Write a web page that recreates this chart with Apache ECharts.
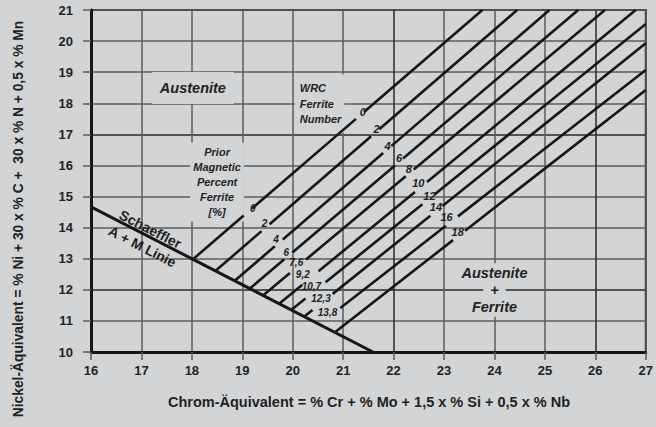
<!DOCTYPE html>
<html><head><meta charset="utf-8">
<script src="https://cdn.jsdelivr.net/npm/echarts@6/dist/echarts.min.js"></script>
<style>html,body{margin:0;padding:0;background:#d3d4d6;}#c{width:656px;height:427px;}</style>
</head><body><div id="c"></div>
<script>
// ---- data ----
const xRange = [16, 27];
const yRange = [10, 21];
const schaefflerX = [16, 21.59];
const schaefflerY = [14.67, 10];
const ferriteNumbers = ['0', '2', '4', '6', '8', '10', '12', '14', '16', '18'];
const magneticPercent = ['0', '2', '4', '6', '7,6', '9,2', '10,7', '12,3', '13,8', null];
const lineStartX = [18.02, 18.47, 18.85, 19.15, 19.41, 19.73, 19.97, 20.23, 20.53, 20.83];
const lineStartY = [12.98, 12.61, 12.29, 12.04, 11.82, 11.55, 11.35, 11.14, 10.89, 10.63];
const lineEndX = [23.76, 24.45, 25.09, 25.66, 26.19, 26.80, 27, 27, 27, 27];
const lineEndY = [21, 21, 21, 21, 21, 21, 20.55, 19.93, 19.07, 18.43];
// label anchor positions (data units)
const fnLabelX = [21.39, 21.66, 21.88, 22.11, 22.30, 22.49, 22.71, 22.84, 23.05, 23.27];
const fnLabelY = [17.73, 17.17, 16.63, 16.23, 15.88, 15.43, 15.03, 14.66, 14.33, 13.87];
const pmLabelX = [19.21, 19.44, 19.67, 19.87, 20.07, 20.20, 20.37, 20.56, 20.69, null];
const pmLabelY = [14.62, 14.12, 13.63, 13.21, 12.88, 12.50, 12.10, 11.73, 11.28, null];

const xTitle = 'Chrom-Äquivalent = % Cr + % Mo + 1,5 x % Si + 0,5 x % Nb';
const yTitle = 'Nickel-Äquivalent = % Ni + 30 x % C +  30 x % N + 0,5 x % Mn';

// ---- build ----
const BG = '#d3d4d6';
const FONT = '"Liberation Sans", Arial, Helvetica, sans-serif';
function lineY(i, x) {
  return lineStartY[i] + (x - lineStartX[i]) * (lineEndY[i] - lineStartY[i]) / (lineEndX[i] - lineStartX[i]);
}
function lineXAt(i, y) {
  return lineStartX[i] + (y - lineStartY[i]) * (lineEndX[i] - lineStartX[i]) / (lineEndY[i] - lineStartY[i]);
}
function gapHalf(t) { return 0.04 + 0.04 * t.length; }

const segments = [];
const fnPoints = [];
const pmPoints = [];
for (let i = 0; i < ferriteNumbers.length; i++) {
  const gaps = [];
  if (magneticPercent[i] !== null) {
    gaps.push({ x: lineXAt(i, pmLabelY[i] - 0.12), h: gapHalf(magneticPercent[i]) });
    pmPoints.push([pmLabelX[i], pmLabelY[i], magneticPercent[i]]);
  }
  gaps.push({ x: lineXAt(i, fnLabelY[i] - 0.12), h: gapHalf(ferriteNumbers[i]) });
  fnPoints.push([fnLabelX[i], fnLabelY[i], ferriteNumbers[i]]);
  let cur = lineStartX[i];
  gaps.forEach(g => {
    const a = g.x - g.h;
    if (a > cur + 0.02) segments.push({ coords: [[cur, lineY(i, cur)], [a, lineY(i, a)]] });
    cur = g.x + g.h;
  });
  segments.push({ coords: [[cur, lineY(i, cur)], [lineEndX[i], lineEndY[i]]] });
}

const regionText = {
  color: '#222', fontFamily: FONT, fontWeight: 'bold', fontStyle: 'italic', backgroundColor: BG
};
const annotations = [
  { value: [18.02, 18.49], label: Object.assign({ formatter: 'Austenite', fontSize: 14.5, padding: [7, 8, 10, 8] }, regionText) },
  { value: [20.04, 17.99], label: Object.assign({ formatter: 'WRC\nFerrite\nNumber', fontSize: 11, lineHeight: 15.5, align: 'left', padding: [6, 3, 6, 5] }, regionText) },
  { value: [18.50, 15.47], label: Object.assign({ formatter: 'Prior\nMagnetic\nPercent\nFerrite\n[%]', fontSize: 11, lineHeight: 15, padding: [2, 3, 2, 3] }, regionText) },
  { value: [24.0, 12.55], label: Object.assign({ formatter: 'Austenite', fontSize: 14.5, lineHeight: 17, padding: [1, 3, 1, 3] }, regionText) },
  { value: [24.0, 12.0], label: Object.assign({ formatter: '+', fontSize: 14.5, lineHeight: 17, fontStyle: 'normal', padding: [1, 7, 1, 7] }, regionText) },
  { value: [24.0, 11.44], label: Object.assign({ formatter: 'Ferrite', fontSize: 14.5, lineHeight: 17, padding: [1, 3, 1, 3] }, regionText) },
  { value: [17.18, 13.95], label: { formatter: 'Schaeffler', rotate: -27, fontSize: 14, fontWeight: 'bold', fontFamily: FONT, color: '#1e1e1e' } },
  { value: [17.02, 13.39], label: { formatter: 'A + M Linie', rotate: -27, fontSize: 14, fontWeight: 'bold', fontFamily: FONT, color: '#1e1e1e' } }
];

const gridDarkX = ['#5c5c5c','#5c5c5c','#5c5c5c','#5c5c5c','#5c5c5c','#5c5c5c','#2a2a2a','#5c5c5c','#5c5c5c','#5c5c5c','#2a2a2a','#5c5c5c'];
const gridDarkY = ['#5c5c5c','#5c5c5c','#2a2a2a','#5c5c5c','#5c5c5c','#5c5c5c','#5c5c5c','#2a2a2a','#5c5c5c','#5c5c5c','#5c5c5c','#5c5c5c'];

const axisCommon = {
  type: 'value', interval: 1,
  axisLine: { show: true, onZero: false, lineStyle: { color: '#151515', width: 3 } },
  axisTick: { show: true, length: 8, lineStyle: { color: '#5c5c5c', width: 1.5 } },
  axisLabel: { fontFamily: FONT, fontWeight: 'bold', fontSize: 13, color: '#222' }
};
const opaque = { opacity: 1 };

const chart = echarts.init(document.getElementById('c'), null, { renderer: 'svg' });
chart.setOption({
  backgroundColor: BG,
  animation: false,
  grid: { left: 91, right: 9, top: 10, bottom: 75, show: true, borderColor: '#2a2a2a', borderWidth: 2, backgroundColor: 'transparent' },
  xAxis: Object.assign({}, axisCommon, {
    min: xRange[0], max: xRange[1],
    axisLabel: Object.assign({}, axisCommon.axisLabel, { margin: 12 }),
    splitLine: { show: true, lineStyle: { color: gridDarkX, width: 1.5 } }
  }),
  yAxis: Object.assign({}, axisCommon, {
    min: yRange[0], max: yRange[1],
    axisLabel: Object.assign({}, axisCommon.axisLabel, { margin: 18 }),
    splitLine: { show: true, lineStyle: { color: gridDarkY, width: 1.5 } }
  }),
  graphic: [
    { type: 'text', x: 369, y: 402, style: { text: xTitle, font: 'bold 14.5px ' + FONT, fill: '#222', align: 'center', verticalAlign: 'middle' } },
    { type: 'text', x: 18, y: 219, rotation: Math.PI / 2, style: { text: yTitle, font: 'bold 13.8px ' + FONT, fill: '#222', align: 'center', verticalAlign: 'middle' } }
  ],
  series: [
    { type: 'scatter', z: 1, silent: true, symbolSize: 0, itemStyle: opaque, data: annotations,
      label: { show: true, position: 'inside', opacity: 1, textBorderWidth: 0 } },
    { type: 'lines', coordinateSystem: 'cartesian2d', z: 3, silent: true, polyline: false,
      lineStyle: { color: '#161616', width: 2.6, opacity: 1, cap: 'butt' }, data: segments },
    { type: 'line', z: 3, silent: true, symbol: 'none',
      lineStyle: { color: '#161616', width: 3 },
      data: schaefflerX.map((x, k) => [x, schaefflerY[k]]) },
    { type: 'scatter', z: 4, silent: true, symbolSize: 0, itemStyle: opaque, data: fnPoints,
      label: { show: true, position: 'inside', opacity: 1, textBorderWidth: 0, formatter: p => p.value[2],
        fontFamily: FONT, fontWeight: 'bold', fontStyle: 'italic', fontSize: 11, lineHeight: 11, color: '#1e1e1e' } },
    { type: 'scatter', z: 4, silent: true, symbolSize: 0, itemStyle: opaque, data: pmPoints,
      label: { show: true, position: 'inside', opacity: 1, textBorderWidth: 0, formatter: p => p.value[2],
        fontFamily: FONT, fontWeight: 'bold', fontStyle: 'italic', fontSize: 10, lineHeight: 10, color: '#1e1e1e' } }
  ]
});
</script>
</body></html>
